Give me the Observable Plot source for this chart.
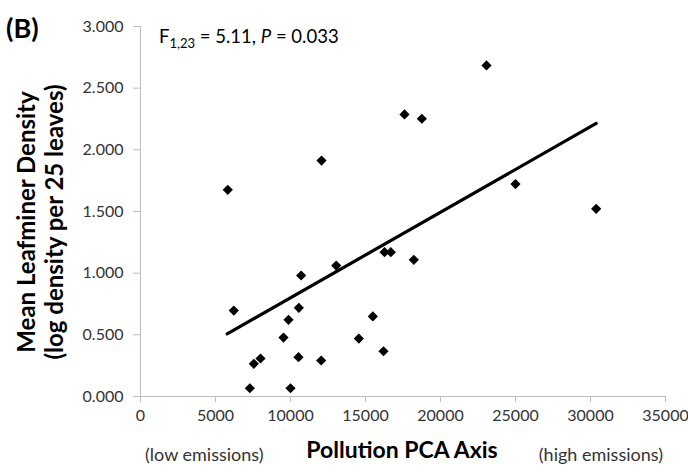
<!DOCTYPE html>
<html><head><meta charset="utf-8">
<script src="https://cdn.jsdelivr.net/npm/d3@7"></script>
<script src="https://cdn.jsdelivr.net/npm/@observablehq/plot@0.6"></script>
<style>body{margin:0;background:#fff}</style>
</head><body><div id="chart"></div>
<script>
const pollution = [5820, 12067, 6220, 13047, 10711, 10556, 9867, 9533, 8000, 7556, 7289, 10000, 10533, 12044, 14556, 15489, 16200, 16267, 16689, 18222, 23067, 17600, 18756, 25000, 30378];
const leafminer = [1.676, 1.913, 0.697, 1.062, 0.981, 0.719, 0.622, 0.478, 0.308, 0.265, 0.067, 0.067, 0.319, 0.292, 0.470, 0.649, 0.367, 1.170, 1.170, 1.108, 2.684, 2.287, 2.252, 1.722, 1.522];
const fitX = [5780, 30380];
const fitY = [0.508, 2.214];
const xTicks = [0, 5000, 10000, 15000, 20000, 25000, 30000, 35000];
const yTicks = [0, 0.5, 1, 1.5, 2, 2.5, 3];

const points = pollution.map((x, i) => ({x, y: leafminer[i]}));
const fit = fitX.map((x, i) => ({x, y: fitY[i]}));
const font = "Lato, 'Open Sans', sans-serif";

const chart = Plot.plot({
  width: 688, height: 472,
  marginLeft: 140, marginRight: 23, marginTop: 26, marginBottom: 76,
  style: {fontFamily: font, fontSize: "16px", background: "#fff"},
  x: {domain: [0, 35000], label: null},
  y: {domain: [0, 3], label: null},
  marks: [
    Plot.axisX({ticks: xTicks, tickFormat: d => String(d), tickSize: 6, tickPadding: 7, stroke: "#bdbdbd", fill: "#333", fontSize: 16, label: null}),
    Plot.axisY({ticks: yTicks, tickFormat: d3.format(".3f"), tickSize: 7, tickPadding: 10, stroke: "#bdbdbd", fill: "#333", fontSize: 16, label: null}),
    Plot.ruleY([0], {stroke: "#bdbdbd"}),
    Plot.ruleX([0], {stroke: "#bdbdbd"}),
    Plot.line(fit, {x: "x", y: "y", stroke: "#000", strokeWidth: 3.2}),
    Plot.dot(points, {x: "x", y: "y", symbol: "diamond2", r: 4.6, fill: "#000", stroke: "none"})
  ]
});
document.getElementById("chart").appendChild(chart);

const svg = d3.select(chart);
const txt = (x, y, size, s, opts = {}) => svg.append("text").attr("x", x).attr("y", y)
  .attr("font-family", font).attr("font-size", size).attr("text-anchor", opts.anchor || "start")
  .attr("font-weight", opts.bold ? "bold" : "normal").attr("fill", opts.fill || "#000").text(s);

txt(6, 38, 27, "(B)", {bold: true});

const ann = svg.append("text").attr("x", 159).attr("y", 43).attr("font-family", font)
  .attr("font-size", 18.5).attr("fill", "#000").attr("text-anchor", "start");
ann.append("tspan").text("F");
ann.append("tspan").attr("dy", 5).attr("font-size", 13).text("1,23");
ann.append("tspan").attr("dy", -5).text(" = 5.11, ");
ann.append("tspan").attr("font-style", "italic").text("P");
ann.append("tspan").text(" = 0.033");

const yl = svg.append("g").attr("transform", "translate(0,222) rotate(-90)")
  .attr("font-family", font).attr("font-weight", "bold").attr("font-size", 24)
  .attr("text-anchor", "middle").attr("fill", "#000");
yl.append("text").attr("x", 0).attr("y", 35).text("Mean Leafminer Density");
yl.append("text").attr("x", 0).attr("y", 63).text("(log density per 25 leaves)");

txt(402, 458, 23, "Pollution PCA Axis", {bold: true, anchor: "middle"});
txt(145, 461, 18, "(low emissions)", {fill: "#333"});
txt(663, 461, 18, "(high emissions)", {fill: "#333", anchor: "end"});
</script>
</body></html>
